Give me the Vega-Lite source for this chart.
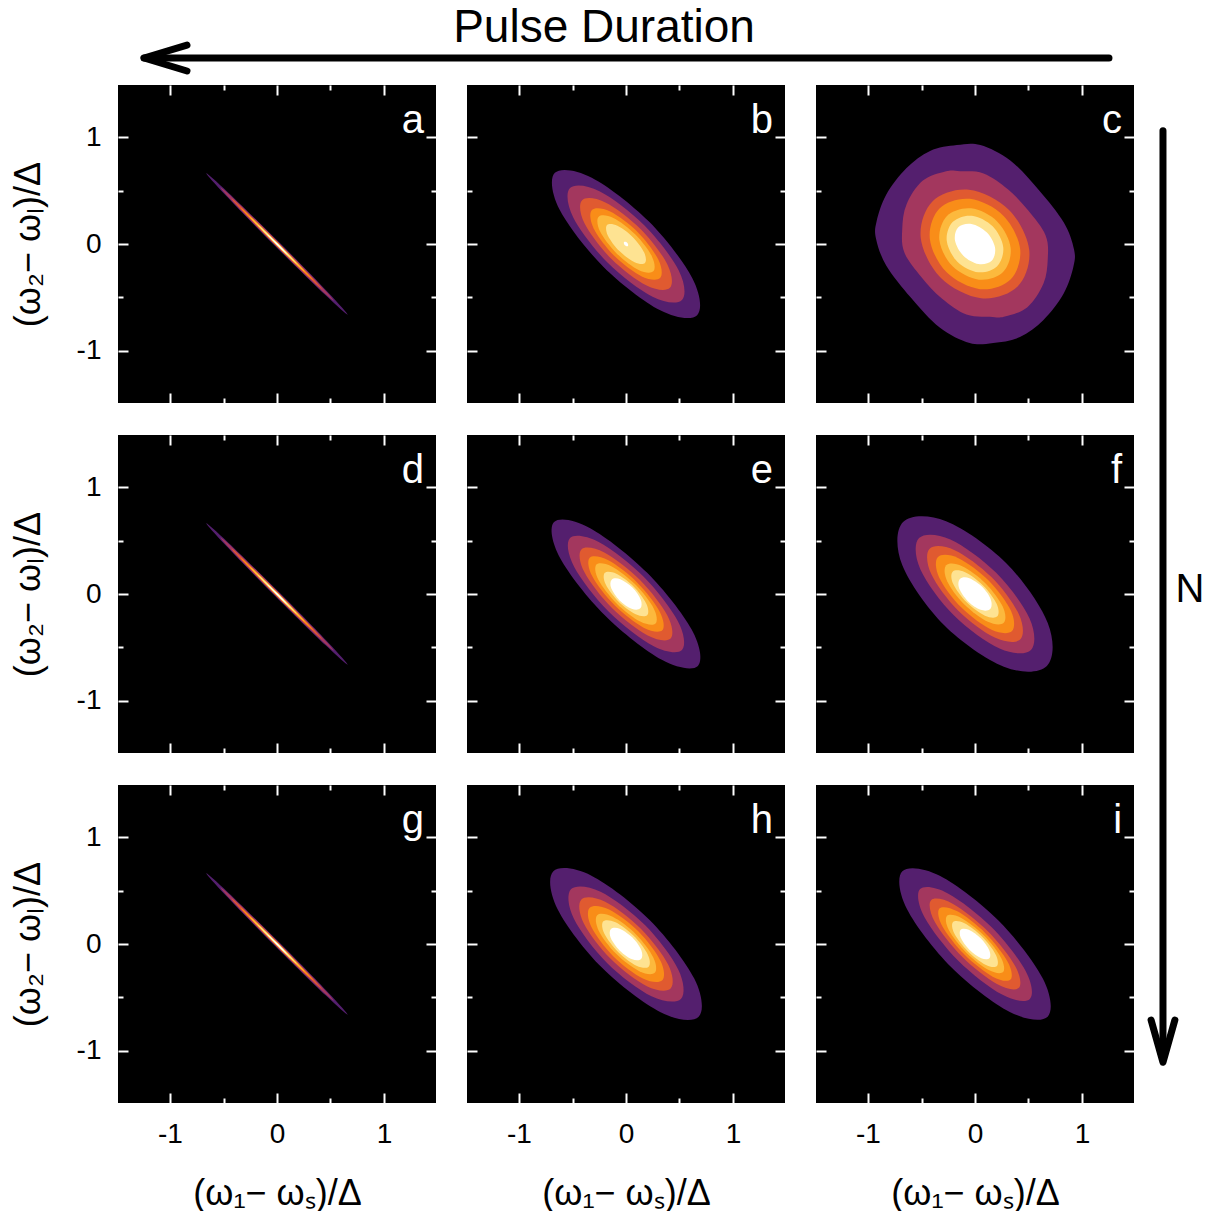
{
"$schema": "https://vega.github.io/schema/vega-lite/v6.json",
"padding": {"left": 10, "top": 0, "right": 0, "bottom": 0},
"background": "white",
"config": {
  "font": "Liberation Sans",
  "view": {"stroke": null},
  "axis": {"domain": false, "grid": false, "tickCount": 6, "tickColor": "white", "tickWidth": 2,
    "tickSize": {"condition": {"test": "datum.value % 1 !== 0", "value": -5}, "value": -10},
    "labelExpr": "datum.value % 1 !== 0 ? '' : '' + datum.value",
    "labelFont": "Liberation Sans", "labelFontSize": 28, "labelColor": "black", "labelPadding": 27, "labelOverlap": false, "labelFlush": false,
    "titleFont": "Liberation Sans", "titleFontSize": 36, "titleFontWeight": "normal", "titleColor": "black", "titlePadding": 20,
    "minExtent": 0, "zindex": 1},
  "axisLeft": {"titlePadding": 29},
  "axisBottom": {"titlePadding": 23}
},
"datasets": {
"thin": [
{"l":1,"k":0,"x":0.661,"y":-0.661},{"l":1,"k":1,"x":0.48,"y":-0.455},{"l":1,"k":2,"x":0.018,"y":0.018},{"l":1,"k":3,"x":-0.455,"y":0.48},{"l":1,"k":4,"x":-0.661,"y":0.661},{"l":1,"k":5,"x":-0.48,"y":0.455},{"l":1,"k":6,"x":-0.018,"y":-0.018},{"l":1,"k":7,"x":0.455,"y":-0.48},
{"l":2,"k":0,"x":0.53,"y":-0.53},{"l":2,"k":1,"x":0.386,"y":-0.364},{"l":2,"k":2,"x":0.015,"y":0.015},{"l":2,"k":3,"x":-0.364,"y":0.386},{"l":2,"k":4,"x":-0.53,"y":0.53},{"l":2,"k":5,"x":-0.386,"y":0.364},{"l":2,"k":6,"x":-0.015,"y":-0.015},{"l":2,"k":7,"x":0.364,"y":-0.386},
{"l":3,"k":0,"x":0.424,"y":-0.424},{"l":3,"k":1,"x":0.307,"y":-0.293},{"l":3,"k":2,"x":0.011,"y":0.011},{"l":3,"k":3,"x":-0.293,"y":0.307},{"l":3,"k":4,"x":-0.424,"y":0.424},{"l":3,"k":5,"x":-0.307,"y":0.293},{"l":3,"k":6,"x":-0.011,"y":-0.011},{"l":3,"k":7,"x":0.293,"y":-0.307},
{"l":4,"k":0,"x":0.339,"y":-0.339},{"l":4,"k":1,"x":0.246,"y":-0.234},{"l":4,"k":2,"x":0.009,"y":0.009},{"l":4,"k":3,"x":-0.234,"y":0.246},{"l":4,"k":4,"x":-0.339,"y":0.339},{"l":4,"k":5,"x":-0.246,"y":0.234},{"l":4,"k":6,"x":-0.009,"y":-0.009},{"l":4,"k":7,"x":0.234,"y":-0.246},
{"l":5,"k":0,"x":0.262,"y":-0.262},{"l":5,"k":1,"x":0.19,"y":-0.18},{"l":5,"k":2,"x":0.007,"y":0.007},{"l":5,"k":3,"x":-0.18,"y":0.19},{"l":5,"k":4,"x":-0.262,"y":0.262},{"l":5,"k":5,"x":-0.19,"y":0.18},{"l":5,"k":6,"x":-0.007,"y":-0.007},{"l":5,"k":7,"x":0.18,"y":-0.19},
{"l":6,"k":0,"x":0.184,"y":-0.184},{"l":6,"k":1,"x":0.134,"y":-0.126},{"l":6,"k":2,"x":0.006,"y":0.006},{"l":6,"k":3,"x":-0.126,"y":0.134},{"l":6,"k":4,"x":-0.184,"y":0.184},{"l":6,"k":5,"x":-0.134,"y":0.126},{"l":6,"k":6,"x":-0.006,"y":-0.006},{"l":6,"k":7,"x":0.126,"y":-0.134},
{"l":7,"k":0,"x":0.092,"y":-0.092},{"l":7,"k":1,"x":0.068,"y":-0.062},{"l":7,"k":2,"x":0.004,"y":0.004},{"l":7,"k":3,"x":-0.062,"y":0.068},{"l":7,"k":4,"x":-0.092,"y":0.092},{"l":7,"k":5,"x":-0.068,"y":0.062},{"l":7,"k":6,"x":-0.004,"y":-0.004},{"l":7,"k":7,"x":0.062,"y":-0.068}
],
"b": [
{"l":1,"k":0,"x":0.665,"y":-0.665},{"l":1,"k":1,"x":0.62,"y":-0.32},{"l":1,"k":2,"x":0.212,"y":0.212},{"l":1,"k":3,"x":-0.32,"y":0.62},{"l":1,"k":4,"x":-0.665,"y":0.665},{"l":1,"k":5,"x":-0.62,"y":0.32},{"l":1,"k":6,"x":-0.212,"y":-0.212},{"l":1,"k":7,"x":0.32,"y":-0.62},
{"l":2,"k":0,"x":0.523,"y":-0.523},{"l":2,"k":1,"x":0.493,"y":-0.248},{"l":2,"k":2,"x":0.173,"y":0.173},{"l":2,"k":3,"x":-0.248,"y":0.493},{"l":2,"k":4,"x":-0.523,"y":0.523},{"l":2,"k":5,"x":-0.493,"y":0.248},{"l":2,"k":6,"x":-0.173,"y":-0.173},{"l":2,"k":7,"x":0.248,"y":-0.493},
{"l":3,"k":0,"x":0.41,"y":-0.41},{"l":3,"k":1,"x":0.388,"y":-0.193},{"l":3,"k":2,"x":0.138,"y":0.138},{"l":3,"k":3,"x":-0.193,"y":0.388},{"l":3,"k":4,"x":-0.41,"y":0.41},{"l":3,"k":5,"x":-0.388,"y":0.193},{"l":3,"k":6,"x":-0.138,"y":-0.138},{"l":3,"k":7,"x":0.193,"y":-0.388},
{"l":4,"k":0,"x":0.318,"y":-0.318},{"l":4,"k":1,"x":0.303,"y":-0.148},{"l":4,"k":2,"x":0.11,"y":0.11},{"l":4,"k":3,"x":-0.148,"y":0.303},{"l":4,"k":4,"x":-0.318,"y":0.318},{"l":4,"k":5,"x":-0.303,"y":0.148},{"l":4,"k":6,"x":-0.11,"y":-0.11},{"l":4,"k":7,"x":0.148,"y":-0.303},
{"l":5,"k":0,"x":0.255,"y":-0.255},{"l":5,"k":1,"x":0.243,"y":-0.118},{"l":5,"k":2,"x":0.088,"y":0.088},{"l":5,"k":3,"x":-0.118,"y":0.243},{"l":5,"k":4,"x":-0.255,"y":0.255},{"l":5,"k":5,"x":-0.243,"y":0.118},{"l":5,"k":6,"x":-0.088,"y":-0.088},{"l":5,"k":7,"x":0.118,"y":-0.243},
{"l":6,"k":0,"x":0.177,"y":-0.177},{"l":6,"k":1,"x":0.17,"y":-0.08},{"l":6,"k":2,"x":0.064,"y":0.064},{"l":6,"k":3,"x":-0.08,"y":0.17},{"l":6,"k":4,"x":-0.177,"y":0.177},{"l":6,"k":5,"x":-0.17,"y":0.08},{"l":6,"k":6,"x":-0.064,"y":-0.064},{"l":6,"k":7,"x":0.08,"y":-0.17},
{"l":7,"k":0,"x":0.018,"y":-0.018},{"l":7,"k":1,"x":0.02,"y":-0.005},{"l":7,"k":2,"x":0.011,"y":0.011},{"l":7,"k":3,"x":-0.005,"y":0.02},{"l":7,"k":4,"x":-0.018,"y":0.018},{"l":7,"k":5,"x":-0.02,"y":0.005},{"l":7,"k":6,"x":-0.011,"y":-0.011},{"l":7,"k":7,"x":0.005,"y":-0.02}
],
"c": [
{"l":1,"k":0,"x":0.05,"y":0.925},{"l":1,"k":1,"x":0.33,"y":0.78},{"l":1,"k":2,"x":0.6,"y":0.5},{"l":1,"k":3,"x":0.83,"y":0.2},{"l":1,"k":4,"x":0.925,"y":-0.05},{"l":1,"k":5,"x":0.92,"y":-0.21},{"l":1,"k":6,"x":0.83,"y":-0.46},{"l":1,"k":7,"x":0.64,"y":-0.71},{"l":1,"k":8,"x":0.42,"y":-0.87},{"l":1,"k":9,"x":0.17,"y":-0.925},
{"l":1,"k":10,"x":-0.05,"y":-0.925},{"l":1,"k":11,"x":-0.33,"y":-0.78},{"l":1,"k":12,"x":-0.6,"y":-0.5},{"l":1,"k":13,"x":-0.83,"y":-0.2},{"l":1,"k":14,"x":-0.925,"y":0.05},{"l":1,"k":15,"x":-0.92,"y":0.21},{"l":1,"k":16,"x":-0.83,"y":0.46},{"l":1,"k":17,"x":-0.64,"y":0.71},{"l":1,"k":18,"x":-0.42,"y":0.87},{"l":1,"k":19,"x":-0.17,"y":0.925},
{"l":2,"k":0,"x":-0.14,"y":0.68},{"l":2,"k":1,"x":0.08,"y":0.66},{"l":2,"k":2,"x":0.31,"y":0.51},{"l":2,"k":3,"x":0.5,"y":0.31},{"l":2,"k":4,"x":0.66,"y":0.08},{"l":2,"k":5,"x":0.68,"y":-0.14},{"l":2,"k":6,"x":0.64,"y":-0.37},{"l":2,"k":7,"x":0.49,"y":-0.59},{"l":2,"k":8,"x":0.27,"y":-0.68},
{"l":2,"k":9,"x":0.14,"y":-0.68},{"l":2,"k":10,"x":-0.08,"y":-0.66},{"l":2,"k":11,"x":-0.31,"y":-0.51},{"l":2,"k":12,"x":-0.5,"y":-0.31},{"l":2,"k":13,"x":-0.66,"y":-0.08},{"l":2,"k":14,"x":-0.68,"y":0.14},{"l":2,"k":15,"x":-0.64,"y":0.37},{"l":2,"k":16,"x":-0.49,"y":0.59},{"l":2,"k":17,"x":-0.27,"y":0.68},
{"l":3,"k":0,"x":0.398,"y":-0.398},{"l":3,"k":1,"x":0.507,"y":-0.057},{"l":3,"k":2,"x":0.318,"y":0.318},{"l":3,"k":3,"x":-0.057,"y":0.507},{"l":3,"k":4,"x":-0.398,"y":0.398},{"l":3,"k":5,"x":-0.507,"y":0.057},{"l":3,"k":6,"x":-0.318,"y":-0.318},{"l":3,"k":7,"x":0.057,"y":-0.507},
{"l":4,"k":0,"x":0.332,"y":-0.332},{"l":4,"k":1,"x":0.422,"y":-0.047},{"l":4,"k":2,"x":0.265,"y":0.265},{"l":4,"k":3,"x":-0.047,"y":0.422},{"l":4,"k":4,"x":-0.332,"y":0.332},{"l":4,"k":5,"x":-0.422,"y":0.047},{"l":4,"k":6,"x":-0.265,"y":-0.265},{"l":4,"k":7,"x":0.047,"y":-0.422},
{"l":5,"k":0,"x":0.262,"y":-0.262},{"l":5,"k":1,"x":0.333,"y":-0.037},{"l":5,"k":2,"x":0.209,"y":0.209},{"l":5,"k":3,"x":-0.037,"y":0.333},{"l":5,"k":4,"x":-0.262,"y":0.262},{"l":5,"k":5,"x":-0.333,"y":0.037},{"l":5,"k":6,"x":-0.209,"y":-0.209},{"l":5,"k":7,"x":0.037,"y":-0.333},
{"l":6,"k":0,"x":0.207,"y":-0.207},{"l":6,"k":1,"x":0.264,"y":-0.03},{"l":6,"k":2,"x":0.165,"y":0.165},{"l":6,"k":3,"x":-0.03,"y":0.264},{"l":6,"k":4,"x":-0.207,"y":0.207},{"l":6,"k":5,"x":-0.264,"y":0.03},{"l":6,"k":6,"x":-0.165,"y":-0.165},{"l":6,"k":7,"x":0.03,"y":-0.264},
{"l":7,"k":0,"x":0.156,"y":-0.156},{"l":7,"k":1,"x":0.187,"y":-0.033},{"l":7,"k":2,"x":0.109,"y":0.109},{"l":7,"k":3,"x":-0.033,"y":0.187},{"l":7,"k":4,"x":-0.156,"y":0.156},{"l":7,"k":5,"x":-0.187,"y":0.033},{"l":7,"k":6,"x":-0.109,"y":-0.109},{"l":7,"k":7,"x":0.033,"y":-0.187}
],
"e": [
{"l":1,"k":0,"x":0.672,"y":-0.672},{"l":1,"k":1,"x":0.615,"y":-0.335},{"l":1,"k":2,"x":0.198,"y":0.198},{"l":1,"k":3,"x":-0.335,"y":0.615},{"l":1,"k":4,"x":-0.672,"y":0.672},{"l":1,"k":5,"x":-0.615,"y":0.335},{"l":1,"k":6,"x":-0.198,"y":-0.198},{"l":1,"k":7,"x":0.335,"y":-0.615},
{"l":2,"k":0,"x":0.523,"y":-0.523},{"l":2,"k":1,"x":0.485,"y":-0.255},{"l":2,"k":2,"x":0.163,"y":0.163},{"l":2,"k":3,"x":-0.255,"y":0.485},{"l":2,"k":4,"x":-0.523,"y":0.523},{"l":2,"k":5,"x":-0.485,"y":0.255},{"l":2,"k":6,"x":-0.163,"y":-0.163},{"l":2,"k":7,"x":0.255,"y":-0.485},
{"l":3,"k":0,"x":0.417,"y":-0.417},{"l":3,"k":1,"x":0.388,"y":-0.203},{"l":3,"k":2,"x":0.131,"y":0.131},{"l":3,"k":3,"x":-0.203,"y":0.388},{"l":3,"k":4,"x":-0.417,"y":0.417},{"l":3,"k":5,"x":-0.388,"y":0.203},{"l":3,"k":6,"x":-0.131,"y":-0.131},{"l":3,"k":7,"x":0.203,"y":-0.388},
{"l":4,"k":0,"x":0.339,"y":-0.339},{"l":4,"k":1,"x":0.315,"y":-0.165},{"l":4,"k":2,"x":0.106,"y":0.106},{"l":4,"k":3,"x":-0.165,"y":0.315},{"l":4,"k":4,"x":-0.339,"y":0.339},{"l":4,"k":5,"x":-0.315,"y":0.165},{"l":4,"k":6,"x":-0.106,"y":-0.106},{"l":4,"k":7,"x":0.165,"y":-0.315},
{"l":5,"k":0,"x":0.276,"y":-0.276},{"l":5,"k":1,"x":0.258,"y":-0.133},{"l":5,"k":2,"x":0.088,"y":0.088},{"l":5,"k":3,"x":-0.133,"y":0.258},{"l":5,"k":4,"x":-0.276,"y":0.276},{"l":5,"k":5,"x":-0.258,"y":0.133},{"l":5,"k":6,"x":-0.088,"y":-0.088},{"l":5,"k":7,"x":0.133,"y":-0.258},
{"l":6,"k":0,"x":0.198,"y":-0.198},{"l":6,"k":1,"x":0.19,"y":-0.09},{"l":6,"k":2,"x":0.071,"y":0.071},{"l":6,"k":3,"x":-0.09,"y":0.19},{"l":6,"k":4,"x":-0.198,"y":0.198},{"l":6,"k":5,"x":-0.19,"y":0.09},{"l":6,"k":6,"x":-0.071,"y":-0.071},{"l":6,"k":7,"x":0.09,"y":-0.19},
{"l":7,"k":0,"x":0.134,"y":-0.134},{"l":7,"k":1,"x":0.138,"y":-0.053},{"l":7,"k":2,"x":0.06,"y":0.06},{"l":7,"k":3,"x":-0.053,"y":0.138},{"l":7,"k":4,"x":-0.134,"y":0.134},{"l":7,"k":5,"x":-0.138,"y":0.053},{"l":7,"k":6,"x":-0.06,"y":-0.06},{"l":7,"k":7,"x":0.053,"y":-0.138}
],
"f": [
{"l":1,"k":0,"x":0.672,"y":-0.672},{"l":1,"k":1,"x":0.68,"y":-0.27},{"l":1,"k":2,"x":0.29,"y":0.29},{"l":1,"k":3,"x":-0.27,"y":0.68},{"l":1,"k":4,"x":-0.672,"y":0.672},{"l":1,"k":5,"x":-0.68,"y":0.27},{"l":1,"k":6,"x":-0.29,"y":-0.29},{"l":1,"k":7,"x":0.27,"y":-0.68},
{"l":2,"k":0,"x":0.523,"y":-0.523},{"l":2,"k":1,"x":0.51,"y":-0.23},{"l":2,"k":2,"x":0.198,"y":0.198},{"l":2,"k":3,"x":-0.23,"y":0.51},{"l":2,"k":4,"x":-0.523,"y":0.523},{"l":2,"k":5,"x":-0.51,"y":0.23},{"l":2,"k":6,"x":-0.198,"y":-0.198},{"l":2,"k":7,"x":0.23,"y":-0.51},
{"l":3,"k":0,"x":0.424,"y":-0.424},{"l":3,"k":1,"x":0.41,"y":-0.19},{"l":3,"k":2,"x":0.156,"y":0.156},{"l":3,"k":3,"x":-0.19,"y":0.41},{"l":3,"k":4,"x":-0.424,"y":0.424},{"l":3,"k":5,"x":-0.41,"y":0.19},{"l":3,"k":6,"x":-0.156,"y":-0.156},{"l":3,"k":7,"x":0.19,"y":-0.41},
{"l":4,"k":0,"x":0.346,"y":-0.346},{"l":4,"k":1,"x":0.335,"y":-0.155},{"l":4,"k":2,"x":0.127,"y":0.127},{"l":4,"k":3,"x":-0.155,"y":0.335},{"l":4,"k":4,"x":-0.346,"y":0.346},{"l":4,"k":5,"x":-0.335,"y":0.155},{"l":4,"k":6,"x":-0.127,"y":-0.127},{"l":4,"k":7,"x":0.155,"y":-0.335},
{"l":5,"k":0,"x":0.269,"y":-0.269},{"l":5,"k":1,"x":0.26,"y":-0.12},{"l":5,"k":2,"x":0.099,"y":0.099},{"l":5,"k":3,"x":-0.12,"y":0.26},{"l":5,"k":4,"x":-0.269,"y":0.269},{"l":5,"k":5,"x":-0.26,"y":0.12},{"l":5,"k":6,"x":-0.099,"y":-0.099},{"l":5,"k":7,"x":0.12,"y":-0.26},
{"l":6,"k":0,"x":0.209,"y":-0.209},{"l":6,"k":1,"x":0.203,"y":-0.093},{"l":6,"k":2,"x":0.078,"y":0.078},{"l":6,"k":3,"x":-0.093,"y":0.203},{"l":6,"k":4,"x":-0.209,"y":0.209},{"l":6,"k":5,"x":-0.203,"y":0.093},{"l":6,"k":6,"x":-0.078,"y":-0.078},{"l":6,"k":7,"x":0.093,"y":-0.203},
{"l":7,"k":0,"x":0.141,"y":-0.141},{"l":7,"k":1,"x":0.148,"y":-0.053},{"l":7,"k":2,"x":0.067,"y":0.067},{"l":7,"k":3,"x":-0.053,"y":0.148},{"l":7,"k":4,"x":-0.141,"y":0.141},{"l":7,"k":5,"x":-0.148,"y":0.053},{"l":7,"k":6,"x":-0.067,"y":-0.067},{"l":7,"k":7,"x":0.053,"y":-0.148}
],
"h": [
{"l":1,"k":0,"x":0.679,"y":-0.679},{"l":1,"k":1,"x":0.638,"y":-0.323},{"l":1,"k":2,"x":0.223,"y":0.223},{"l":1,"k":3,"x":-0.323,"y":0.638},{"l":1,"k":4,"x":-0.679,"y":0.679},{"l":1,"k":5,"x":-0.638,"y":0.323},{"l":1,"k":6,"x":-0.223,"y":-0.223},{"l":1,"k":7,"x":0.323,"y":-0.638},
{"l":2,"k":0,"x":0.513,"y":-0.513},{"l":2,"k":1,"x":0.488,"y":-0.238},{"l":2,"k":2,"x":0.177,"y":0.177},{"l":2,"k":3,"x":-0.238,"y":0.488},{"l":2,"k":4,"x":-0.513,"y":0.513},{"l":2,"k":5,"x":-0.488,"y":0.238},{"l":2,"k":6,"x":-0.177,"y":-0.177},{"l":2,"k":7,"x":0.238,"y":-0.488},
{"l":3,"k":0,"x":0.417,"y":-0.417},{"l":3,"k":1,"x":0.395,"y":-0.195},{"l":3,"k":2,"x":0.141,"y":0.141},{"l":3,"k":3,"x":-0.195,"y":0.395},{"l":3,"k":4,"x":-0.417,"y":0.417},{"l":3,"k":5,"x":-0.395,"y":0.195},{"l":3,"k":6,"x":-0.141,"y":-0.141},{"l":3,"k":7,"x":0.195,"y":-0.395},
{"l":4,"k":0,"x":0.339,"y":-0.339},{"l":4,"k":1,"x":0.323,"y":-0.158},{"l":4,"k":2,"x":0.117,"y":0.117},{"l":4,"k":3,"x":-0.158,"y":0.323},{"l":4,"k":4,"x":-0.339,"y":0.339},{"l":4,"k":5,"x":-0.323,"y":0.158},{"l":4,"k":6,"x":-0.117,"y":-0.117},{"l":4,"k":7,"x":0.158,"y":-0.323},
{"l":5,"k":0,"x":0.269,"y":-0.269},{"l":5,"k":1,"x":0.255,"y":-0.125},{"l":5,"k":2,"x":0.092,"y":0.092},{"l":5,"k":3,"x":-0.125,"y":0.255},{"l":5,"k":4,"x":-0.269,"y":0.269},{"l":5,"k":5,"x":-0.255,"y":0.125},{"l":5,"k":6,"x":-0.092,"y":-0.092},{"l":5,"k":7,"x":0.125,"y":-0.255},
{"l":6,"k":0,"x":0.212,"y":-0.212},{"l":6,"k":1,"x":0.203,"y":-0.098},{"l":6,"k":2,"x":0.074,"y":0.074},{"l":6,"k":3,"x":-0.098,"y":0.203},{"l":6,"k":4,"x":-0.212,"y":0.212},{"l":6,"k":5,"x":-0.203,"y":0.098},{"l":6,"k":6,"x":-0.074,"y":-0.074},{"l":6,"k":7,"x":0.098,"y":-0.203},
{"l":7,"k":0,"x":0.141,"y":-0.141},{"l":7,"k":1,"x":0.143,"y":-0.058},{"l":7,"k":2,"x":0.06,"y":0.06},{"l":7,"k":3,"x":-0.058,"y":0.143},{"l":7,"k":4,"x":-0.141,"y":0.141},{"l":7,"k":5,"x":-0.143,"y":0.058},{"l":7,"k":6,"x":-0.06,"y":-0.06},{"l":7,"k":7,"x":0.058,"y":-0.143}
],
"i": [
{"l":1,"k":0,"x":0.679,"y":-0.679},{"l":1,"k":1,"x":0.635,"y":-0.325},{"l":1,"k":2,"x":0.219,"y":0.219},{"l":1,"k":3,"x":-0.325,"y":0.635},{"l":1,"k":4,"x":-0.679,"y":0.679},{"l":1,"k":5,"x":-0.635,"y":0.325},{"l":1,"k":6,"x":-0.219,"y":-0.219},{"l":1,"k":7,"x":0.325,"y":-0.635},
{"l":2,"k":0,"x":0.513,"y":-0.513},{"l":2,"k":1,"x":0.473,"y":-0.253},{"l":2,"k":2,"x":0.156,"y":0.156},{"l":2,"k":3,"x":-0.253,"y":0.473},{"l":2,"k":4,"x":-0.513,"y":0.513},{"l":2,"k":5,"x":-0.473,"y":0.253},{"l":2,"k":6,"x":-0.156,"y":-0.156},{"l":2,"k":7,"x":0.253,"y":-0.473},
{"l":3,"k":0,"x":0.41,"y":-0.41},{"l":3,"k":1,"x":0.375,"y":-0.205},{"l":3,"k":2,"x":0.12,"y":0.12},{"l":3,"k":3,"x":-0.205,"y":0.375},{"l":3,"k":4,"x":-0.41,"y":0.41},{"l":3,"k":5,"x":-0.375,"y":0.205},{"l":3,"k":6,"x":-0.12,"y":-0.12},{"l":3,"k":7,"x":0.205,"y":-0.375},
{"l":4,"k":0,"x":0.332,"y":-0.332},{"l":4,"k":1,"x":0.305,"y":-0.165},{"l":4,"k":2,"x":0.099,"y":0.099},{"l":4,"k":3,"x":-0.165,"y":0.305},{"l":4,"k":4,"x":-0.332,"y":0.332},{"l":4,"k":5,"x":-0.305,"y":0.165},{"l":4,"k":6,"x":-0.099,"y":-0.099},{"l":4,"k":7,"x":0.165,"y":-0.305},
{"l":5,"k":0,"x":0.262,"y":-0.262},{"l":5,"k":1,"x":0.243,"y":-0.128},{"l":5,"k":2,"x":0.081,"y":0.081},{"l":5,"k":3,"x":-0.128,"y":0.243},{"l":5,"k":4,"x":-0.262,"y":0.262},{"l":5,"k":5,"x":-0.243,"y":0.128},{"l":5,"k":6,"x":-0.081,"y":-0.081},{"l":5,"k":7,"x":0.128,"y":-0.243},
{"l":6,"k":0,"x":0.205,"y":-0.205},{"l":6,"k":1,"x":0.193,"y":-0.098},{"l":6,"k":2,"x":0.067,"y":0.067},{"l":6,"k":3,"x":-0.098,"y":0.193},{"l":6,"k":4,"x":-0.205,"y":0.205},{"l":6,"k":5,"x":-0.193,"y":0.098},{"l":6,"k":6,"x":-0.067,"y":-0.067},{"l":6,"k":7,"x":0.098,"y":-0.193},
{"l":7,"k":0,"x":0.134,"y":-0.134},{"l":7,"k":1,"x":0.133,"y":-0.058},{"l":7,"k":2,"x":0.053,"y":0.053},{"l":7,"k":3,"x":-0.058,"y":0.133},{"l":7,"k":4,"x":-0.134,"y":0.134},{"l":7,"k":5,"x":-0.133,"y":0.058},{"l":7,"k":6,"x":-0.053,"y":-0.053},{"l":7,"k":7,"x":0.058,"y":-0.133}
]
},
"spacing": 5,
"vconcat": [
{
 "width": 1050, "height": 79, "view": {"fill": null, "stroke": null},
 "layer": [
  {"data": {"values": [{"x": 0.0248, "x2": 0.9438, "y": 0.266}]},
   "mark": {"type": "rule", "color": "black", "strokeWidth": 7, "strokeCap": "round"},
   "encoding": {"x": {"field": "x", "type": "quantitative", "scale": {"domain": [0, 1], "nice": false, "zero": false}, "axis": null},
     "x2": {"field": "x2"},
     "y": {"field": "y", "type": "quantitative", "scale": {"domain": [0, 1], "nice": false, "zero": false}, "axis": null}}},
  {"data": {"values": [{"x": 0.0657, "y": 0.43, "k": 0}, {"x": 0.0248, "y": 0.266, "k": 1}, {"x": 0.0657, "y": 0.101, "k": 2}]},
   "mark": {"type": "line", "color": "black", "strokeWidth": 7, "strokeCap": "round", "strokeJoin": "round"},
   "encoding": {"x": {"field": "x", "type": "quantitative", "scale": {"domain": [0, 1], "nice": false, "zero": false}, "axis": null},
     "y": {"field": "y", "type": "quantitative", "scale": {"domain": [0, 1], "nice": false, "zero": false}, "axis": null},
     "order": {"field": "k", "type": "quantitative"}}},
  {"data": {"values": [{"x": 0.4629, "y": 0.468, "t": "Pulse Duration"}]},
   "mark": {"type": "text", "fontSize": 46, "font": "Liberation Sans", "baseline": "alphabetic", "align": "center", "color": "black"},
   "encoding": {"x": {"field": "x", "type": "quantitative", "scale": {"domain": [0, 1], "nice": false, "zero": false}, "axis": null},
     "y": {"field": "y", "type": "quantitative", "scale": {"domain": [0, 1], "nice": false, "zero": false}, "axis": null},
     "text": {"field": "t"}}}
 ]
},
{
 "spacing": 6,
 "hconcat": [
  {"spacing": 30, "vconcat": [
   {"spacing": 29, "hconcat": [
    {"width": 318, "height": 318, "view": {"fill": "black", "stroke": null}, "resolve": {"axis": {"x": "independent", "y": "independent"}},
     "layer": [
      {"data": {"name": "thin"}, "mark": {"type": "line", "filled": true, "interpolate": "cardinal-closed"},
       "encoding": {"x": {"field": "x", "type": "quantitative", "scale": {"domain": [-1.486, 1.486], "nice": false, "zero": false}, "axis": {"orient": "bottom", "labels": false, "title": null}},
        "y": {"field": "y", "type": "quantitative", "scale": {"domain": [-1.486, 1.486], "nice": false, "zero": false}, "axis": {"orient": "left", "title": "(ω₂− ωₗ)/Δ"}},
        "color": {"field": "l", "type": "ordinal", "scale": {"domain": [1,2,3,4,5,6,7], "range": ["#541f6e","#a3375e","#e05a30","#f98d18","#fcb93d","#fee392","#ffffff"]}, "legend": null},
        "order": {"field": "k", "type": "quantitative"}}},
      {"data": {"values": [{}]}, "mark": {"type": "text", "text": "a", "fontSize": 40, "color": "white", "align": "right", "baseline": "alphabetic"},
       "encoding": {"x": {"datum": 1.375, "type": "quantitative", "scale": {"domain": [-1.486, 1.486], "nice": false, "zero": false}, "axis": {"orient": "top", "labels": false, "title": null}},
        "y": {"datum": 1.04, "type": "quantitative", "scale": {"domain": [-1.486, 1.486], "nice": false, "zero": false}, "axis": {"orient": "right", "labels": false, "title": null}}}}
     ]},
    {"width": 318, "height": 318, "view": {"fill": "black", "stroke": null}, "resolve": {"axis": {"x": "independent", "y": "independent"}},
     "layer": [
      {"data": {"name": "b"}, "mark": {"type": "line", "filled": true, "interpolate": "cardinal-closed"},
       "encoding": {"x": {"field": "x", "type": "quantitative", "scale": {"domain": [-1.486, 1.486], "nice": false, "zero": false}, "axis": {"orient": "bottom", "labels": false, "title": null}},
        "y": {"field": "y", "type": "quantitative", "scale": {"domain": [-1.486, 1.486], "nice": false, "zero": false}, "axis": {"orient": "left", "labels": false, "title": null}},
        "color": {"field": "l", "type": "ordinal", "scale": {"domain": [1,2,3,4,5,6,7], "range": ["#541f6e","#a3375e","#e05a30","#f98d18","#fcb93d","#fee392","#ffffff"]}, "legend": null},
        "order": {"field": "k", "type": "quantitative"}}},
      {"data": {"values": [{}]}, "mark": {"type": "text", "text": "b", "fontSize": 40, "color": "white", "align": "right", "baseline": "alphabetic"},
       "encoding": {"x": {"datum": 1.375, "type": "quantitative", "scale": {"domain": [-1.486, 1.486], "nice": false, "zero": false}, "axis": {"orient": "top", "labels": false, "title": null}},
        "y": {"datum": 1.04, "type": "quantitative", "scale": {"domain": [-1.486, 1.486], "nice": false, "zero": false}, "axis": {"orient": "right", "labels": false, "title": null}}}}
     ]},
    {"width": 318, "height": 318, "view": {"fill": "black", "stroke": null}, "resolve": {"axis": {"x": "independent", "y": "independent"}},
     "layer": [
      {"data": {"name": "c"}, "mark": {"type": "line", "filled": true, "interpolate": "cardinal-closed"},
       "encoding": {"x": {"field": "x", "type": "quantitative", "scale": {"domain": [-1.486, 1.486], "nice": false, "zero": false}, "axis": {"orient": "bottom", "labels": false, "title": null}},
        "y": {"field": "y", "type": "quantitative", "scale": {"domain": [-1.486, 1.486], "nice": false, "zero": false}, "axis": {"orient": "left", "labels": false, "title": null}},
        "color": {"field": "l", "type": "ordinal", "scale": {"domain": [1,2,3,4,5,6,7], "range": ["#541f6e","#a3375e","#e05a30","#f98d18","#fcb93d","#fee392","#ffffff"]}, "legend": null},
        "order": {"field": "k", "type": "quantitative"}}},
      {"data": {"values": [{}]}, "mark": {"type": "text", "text": "c", "fontSize": 40, "color": "white", "align": "right", "baseline": "alphabetic"},
       "encoding": {"x": {"datum": 1.375, "type": "quantitative", "scale": {"domain": [-1.486, 1.486], "nice": false, "zero": false}, "axis": {"orient": "top", "labels": false, "title": null}},
        "y": {"datum": 1.04, "type": "quantitative", "scale": {"domain": [-1.486, 1.486], "nice": false, "zero": false}, "axis": {"orient": "right", "labels": false, "title": null}}}}
     ]}
   ]},
   {"spacing": 29, "hconcat": [
    {"width": 318, "height": 318, "view": {"fill": "black", "stroke": null}, "resolve": {"axis": {"x": "independent", "y": "independent"}},
     "layer": [
      {"data": {"name": "thin"}, "mark": {"type": "line", "filled": true, "interpolate": "cardinal-closed"},
       "encoding": {"x": {"field": "x", "type": "quantitative", "scale": {"domain": [-1.486, 1.486], "nice": false, "zero": false}, "axis": {"orient": "bottom", "labels": false, "title": null}},
        "y": {"field": "y", "type": "quantitative", "scale": {"domain": [-1.486, 1.486], "nice": false, "zero": false}, "axis": {"orient": "left", "title": "(ω₂− ωₗ)/Δ"}},
        "color": {"field": "l", "type": "ordinal", "scale": {"domain": [1,2,3,4,5,6,7], "range": ["#541f6e","#a3375e","#e05a30","#f98d18","#fcb93d","#fee392","#ffffff"]}, "legend": null},
        "order": {"field": "k", "type": "quantitative"}}},
      {"data": {"values": [{}]}, "mark": {"type": "text", "text": "d", "fontSize": 40, "color": "white", "align": "right", "baseline": "alphabetic"},
       "encoding": {"x": {"datum": 1.375, "type": "quantitative", "scale": {"domain": [-1.486, 1.486], "nice": false, "zero": false}, "axis": {"orient": "top", "labels": false, "title": null}},
        "y": {"datum": 1.04, "type": "quantitative", "scale": {"domain": [-1.486, 1.486], "nice": false, "zero": false}, "axis": {"orient": "right", "labels": false, "title": null}}}}
     ]},
    {"width": 318, "height": 318, "view": {"fill": "black", "stroke": null}, "resolve": {"axis": {"x": "independent", "y": "independent"}},
     "layer": [
      {"data": {"name": "e"}, "mark": {"type": "line", "filled": true, "interpolate": "cardinal-closed"},
       "encoding": {"x": {"field": "x", "type": "quantitative", "scale": {"domain": [-1.486, 1.486], "nice": false, "zero": false}, "axis": {"orient": "bottom", "labels": false, "title": null}},
        "y": {"field": "y", "type": "quantitative", "scale": {"domain": [-1.486, 1.486], "nice": false, "zero": false}, "axis": {"orient": "left", "labels": false, "title": null}},
        "color": {"field": "l", "type": "ordinal", "scale": {"domain": [1,2,3,4,5,6,7], "range": ["#541f6e","#a3375e","#e05a30","#f98d18","#fcb93d","#fee392","#ffffff"]}, "legend": null},
        "order": {"field": "k", "type": "quantitative"}}},
      {"data": {"values": [{}]}, "mark": {"type": "text", "text": "e", "fontSize": 40, "color": "white", "align": "right", "baseline": "alphabetic"},
       "encoding": {"x": {"datum": 1.375, "type": "quantitative", "scale": {"domain": [-1.486, 1.486], "nice": false, "zero": false}, "axis": {"orient": "top", "labels": false, "title": null}},
        "y": {"datum": 1.04, "type": "quantitative", "scale": {"domain": [-1.486, 1.486], "nice": false, "zero": false}, "axis": {"orient": "right", "labels": false, "title": null}}}}
     ]},
    {"width": 318, "height": 318, "view": {"fill": "black", "stroke": null}, "resolve": {"axis": {"x": "independent", "y": "independent"}},
     "layer": [
      {"data": {"name": "f"}, "mark": {"type": "line", "filled": true, "interpolate": "cardinal-closed"},
       "encoding": {"x": {"field": "x", "type": "quantitative", "scale": {"domain": [-1.486, 1.486], "nice": false, "zero": false}, "axis": {"orient": "bottom", "labels": false, "title": null}},
        "y": {"field": "y", "type": "quantitative", "scale": {"domain": [-1.486, 1.486], "nice": false, "zero": false}, "axis": {"orient": "left", "labels": false, "title": null}},
        "color": {"field": "l", "type": "ordinal", "scale": {"domain": [1,2,3,4,5,6,7], "range": ["#541f6e","#a3375e","#e05a30","#f98d18","#fcb93d","#fee392","#ffffff"]}, "legend": null},
        "order": {"field": "k", "type": "quantitative"}}},
      {"data": {"values": [{}]}, "mark": {"type": "text", "text": "f", "fontSize": 40, "color": "white", "align": "right", "baseline": "alphabetic"},
       "encoding": {"x": {"datum": 1.375, "type": "quantitative", "scale": {"domain": [-1.486, 1.486], "nice": false, "zero": false}, "axis": {"orient": "top", "labels": false, "title": null}},
        "y": {"datum": 1.04, "type": "quantitative", "scale": {"domain": [-1.486, 1.486], "nice": false, "zero": false}, "axis": {"orient": "right", "labels": false, "title": null}}}}
     ]}
   ]},
   {"spacing": 29, "hconcat": [
    {"width": 318, "height": 318, "view": {"fill": "black", "stroke": null}, "resolve": {"axis": {"x": "independent", "y": "independent"}},
     "layer": [
      {"data": {"name": "thin"}, "mark": {"type": "line", "filled": true, "interpolate": "cardinal-closed"},
       "encoding": {"x": {"field": "x", "type": "quantitative", "scale": {"domain": [-1.486, 1.486], "nice": false, "zero": false}, "axis": {"orient": "bottom", "title": "(ω₁− ωₛ)/Δ"}},
        "y": {"field": "y", "type": "quantitative", "scale": {"domain": [-1.486, 1.486], "nice": false, "zero": false}, "axis": {"orient": "left", "title": "(ω₂− ωₗ)/Δ"}},
        "color": {"field": "l", "type": "ordinal", "scale": {"domain": [1,2,3,4,5,6,7], "range": ["#541f6e","#a3375e","#e05a30","#f98d18","#fcb93d","#fee392","#ffffff"]}, "legend": null},
        "order": {"field": "k", "type": "quantitative"}}},
      {"data": {"values": [{}]}, "mark": {"type": "text", "text": "g", "fontSize": 40, "color": "white", "align": "right", "baseline": "alphabetic"},
       "encoding": {"x": {"datum": 1.375, "type": "quantitative", "scale": {"domain": [-1.486, 1.486], "nice": false, "zero": false}, "axis": {"orient": "top", "labels": false, "title": null}},
        "y": {"datum": 1.04, "type": "quantitative", "scale": {"domain": [-1.486, 1.486], "nice": false, "zero": false}, "axis": {"orient": "right", "labels": false, "title": null}}}}
     ]},
    {"width": 318, "height": 318, "view": {"fill": "black", "stroke": null}, "resolve": {"axis": {"x": "independent", "y": "independent"}},
     "layer": [
      {"data": {"name": "h"}, "mark": {"type": "line", "filled": true, "interpolate": "cardinal-closed"},
       "encoding": {"x": {"field": "x", "type": "quantitative", "scale": {"domain": [-1.486, 1.486], "nice": false, "zero": false}, "axis": {"orient": "bottom", "title": "(ω₁− ωₛ)/Δ"}},
        "y": {"field": "y", "type": "quantitative", "scale": {"domain": [-1.486, 1.486], "nice": false, "zero": false}, "axis": {"orient": "left", "labels": false, "title": null}},
        "color": {"field": "l", "type": "ordinal", "scale": {"domain": [1,2,3,4,5,6,7], "range": ["#541f6e","#a3375e","#e05a30","#f98d18","#fcb93d","#fee392","#ffffff"]}, "legend": null},
        "order": {"field": "k", "type": "quantitative"}}},
      {"data": {"values": [{}]}, "mark": {"type": "text", "text": "h", "fontSize": 40, "color": "white", "align": "right", "baseline": "alphabetic"},
       "encoding": {"x": {"datum": 1.375, "type": "quantitative", "scale": {"domain": [-1.486, 1.486], "nice": false, "zero": false}, "axis": {"orient": "top", "labels": false, "title": null}},
        "y": {"datum": 1.04, "type": "quantitative", "scale": {"domain": [-1.486, 1.486], "nice": false, "zero": false}, "axis": {"orient": "right", "labels": false, "title": null}}}}
     ]},
    {"width": 318, "height": 318, "view": {"fill": "black", "stroke": null}, "resolve": {"axis": {"x": "independent", "y": "independent"}},
     "layer": [
      {"data": {"name": "i"}, "mark": {"type": "line", "filled": true, "interpolate": "cardinal-closed"},
       "encoding": {"x": {"field": "x", "type": "quantitative", "scale": {"domain": [-1.486, 1.486], "nice": false, "zero": false}, "axis": {"orient": "bottom", "title": "(ω₁− ωₛ)/Δ"}},
        "y": {"field": "y", "type": "quantitative", "scale": {"domain": [-1.486, 1.486], "nice": false, "zero": false}, "axis": {"orient": "left", "labels": false, "title": null}},
        "color": {"field": "l", "type": "ordinal", "scale": {"domain": [1,2,3,4,5,6,7], "range": ["#541f6e","#a3375e","#e05a30","#f98d18","#fcb93d","#fee392","#ffffff"]}, "legend": null},
        "order": {"field": "k", "type": "quantitative"}}},
      {"data": {"values": [{}]}, "mark": {"type": "text", "text": "i", "fontSize": 40, "color": "white", "align": "right", "baseline": "alphabetic"},
       "encoding": {"x": {"datum": 1.375, "type": "quantitative", "scale": {"domain": [-1.486, 1.486], "nice": false, "zero": false}, "axis": {"orient": "top", "labels": false, "title": null}},
        "y": {"datum": 1.04, "type": "quantitative", "scale": {"domain": [-1.486, 1.486], "nice": false, "zero": false}, "axis": {"orient": "right", "labels": false, "title": null}}}}
     ]}
   ]}
  ]},
  {"width": 70, "height": 1018, "view": {"fill": null, "stroke": null},
   "layer": [
    {"data": {"values": [{"x": 0.314, "y": 0.955, "y2": 0.045}]},
     "mark": {"type": "rule", "color": "black", "strokeWidth": 7, "strokeCap": "round"},
     "encoding": {"x": {"field": "x", "type": "quantitative", "scale": {"domain": [0, 1], "nice": false, "zero": false}, "axis": null},
       "y": {"field": "y", "type": "quantitative", "scale": {"domain": [0, 1], "nice": false, "zero": false}, "axis": null},
       "y2": {"field": "y2"}}},
    {"data": {"values": [{"x": 0.144, "y": 0.0815, "k": 0}, {"x": 0.314, "y": 0.04, "k": 1}, {"x": 0.484, "y": 0.0815, "k": 2}]},
     "mark": {"type": "line", "color": "black", "strokeWidth": 7, "strokeCap": "round", "strokeJoin": "round"},
     "encoding": {"x": {"field": "x", "type": "quantitative", "scale": {"domain": [0, 1], "nice": false, "zero": false}, "axis": null},
       "y": {"field": "y", "type": "quantitative", "scale": {"domain": [0, 1], "nice": false, "zero": false}, "axis": null},
       "order": {"field": "k", "type": "quantitative"}}},
    {"data": {"values": [{"x": 0.7, "y": 0.504, "t": "N"}]},
     "mark": {"type": "text", "fontSize": 40, "font": "Liberation Sans", "baseline": "middle", "align": "center", "color": "black"},
     "encoding": {"x": {"field": "x", "type": "quantitative", "scale": {"domain": [0, 1], "nice": false, "zero": false}, "axis": null},
       "y": {"field": "y", "type": "quantitative", "scale": {"domain": [0, 1], "nice": false, "zero": false}, "axis": null},
       "text": {"field": "t"}}}
   ]}
 ]
}
]
}
